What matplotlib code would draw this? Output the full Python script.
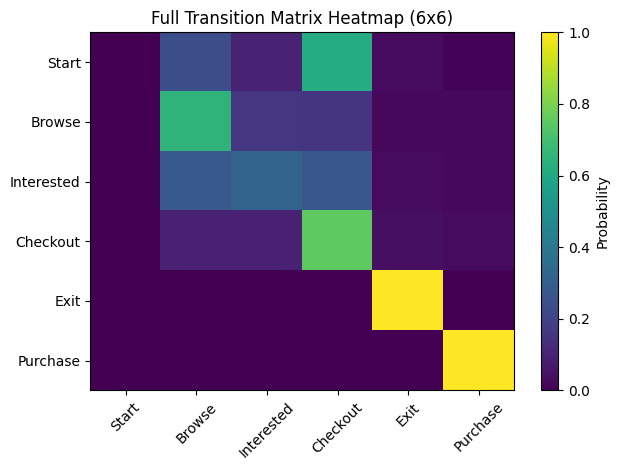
import numpy as np
import matplotlib
matplotlib.use("Agg")
import matplotlib.pyplot as plt

states = ['Start', 'Browse', 'Interested', 'Checkout', 'Exit', 'Purchase']

# transition probabilities, one row per "from" state
row_start = [0.00, 0.24, 0.10, 0.62, 0.03, 0.01]
row_browse = [0.00, 0.65, 0.16, 0.15, 0.02, 0.02]
row_interested = [0.00, 0.28, 0.32, 0.27, 0.03, 0.02]
row_checkout = [0.00, 0.09, 0.09, 0.75, 0.04, 0.03]
row_exit = [0.00, 0.00, 0.00, 0.00, 1.00, 0.00]
row_purchase = [0.00, 0.00, 0.00, 0.00, 0.00, 1.00]

matrix = np.array([row_start, row_browse, row_interested,
                   row_checkout, row_exit, row_purchase])

fig, ax = plt.subplots(figsize=(6.4, 4.8), dpi=100)
im = ax.imshow(matrix, cmap='viridis', vmin=0, vmax=1, aspect='auto')
cbar = fig.colorbar(im, ax=ax)
cbar.set_label('Probability')

ax.set_xticks(range(len(states)))
ax.set_xticklabels(states, rotation=45)
ax.set_yticks(range(len(states)))
ax.set_yticklabels(states)
ax.set_title('Full Transition Matrix Heatmap (6x6)')

plt.tight_layout()
plt.savefig('out.png', bbox_inches='tight')
